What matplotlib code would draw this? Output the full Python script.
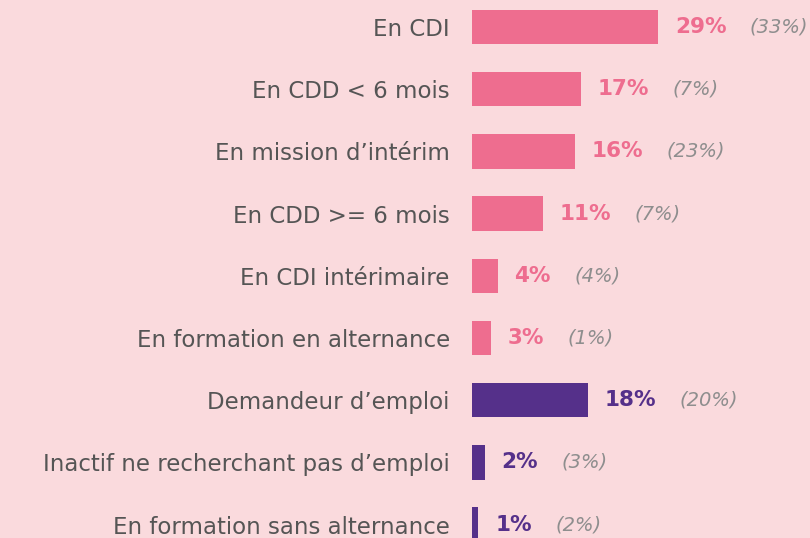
import matplotlib
matplotlib.use("Agg")
import matplotlib.pyplot as plt

categories = ["En CDI", "En CDD < 6 mois", "En mission d\u2019intérim", "En CDD >= 6 mois",
              "En CDI intérimaire", "En formation en alternance", "Demandeur d\u2019emploi",
              "Inactif ne recherchant pas d\u2019emploi", "En formation sans alternance"]
values = [29, 17, 16, 11, 4, 3, 18, 2, 1]
previous = [33, 7, 23, 7, 4, 1, 20, 3, 2]
groups = ["emploi"] * 6 + ["autre"] * 3

BG = "#FADADD"
PINK = "#EE6D8F"
PURPLE = "#55308A"
colors = {"emploi": PINK, "autre": PURPLE}

W, H = 810, 538
DPI = 100
fig = plt.figure(figsize=(W / DPI, H / DPI), dpi=DPI, facecolor=BG)
ax = fig.add_axes([472 / W, 0, 1 - 472 / W, 1])
ax.set_facecolor(BG)

ypos = list(range(len(categories)))
bar_colors = [colors[g] for g in groups]
ax.barh(ypos, values, height=0.55, color=bar_colors)

ax.set_xlim(0, 338 / 6.42)
row = 62.2
ax.set_ylim((H - 27) / row, -27 / row)

ax.set_yticks(ypos)
ax.set_yticklabels(categories, fontsize=16.5, color="#555555", family="DejaVu Sans")
ax.tick_params(axis="y", length=0, pad=16)
ax.set_xticks([])
for s in ax.spines.values():
    s.set_visible(False)

for y, v, p, c in zip(ypos, values, previous, bar_colors):
    lab = ax.annotate(f"{v}%", xy=(v, y), xytext=(12, 0), textcoords="offset points",
                      ha="left", va="center", fontsize=15.5, fontweight="bold", color=c,
                      family="DejaVu Sans")
    ax.annotate(f"({p}%)", xy=(1, 0.5), xycoords=lab, xytext=(17, 0),
                textcoords="offset points", ha="left", va="center", fontsize=14,
                fontstyle="italic", color="#8E8E8E", family="DejaVu Sans")

fig.savefig("out.png", dpi=DPI, facecolor=BG)
